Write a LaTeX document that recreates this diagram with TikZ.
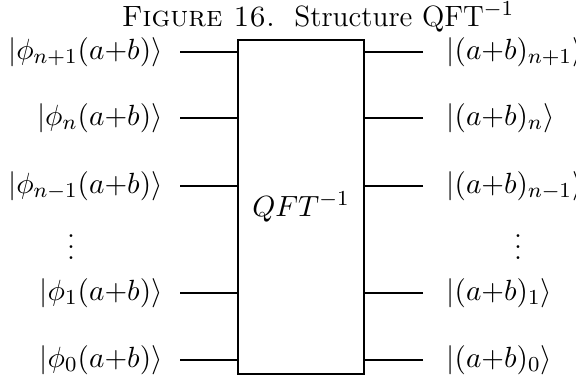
\documentclass[tikz,border=0pt]{standalone}
\usepackage{amsmath}
\begin{document}
\begin{tikzpicture}[x=0.375pt, y=-0.375pt,
		every node/.style={font=\fontsize{11}{13}\selectfont},
		lbl/.style={inner sep=0pt},
		lwire/.style={shorten <=6.4pt},
		rwire/.style={shorten <=8.6pt}]
	% 0. 画布
	\useasboundingbox (0,0) rectangle (576,383);
	
	% 1. 标题
	\node (title) at (318,17) {\textsc{Figure 16.}\ \ Structure QFT$^{-1}$};
	
	% 2. 方框
	\node[draw, inner sep=0pt, minimum width=47.25pt, minimum height=125.25pt] (qft) at (301,207) {$QFT^{-1}$};
	
	% 3. 输入
	\node[lbl, anchor=east] (in1) at (163,52) {$|\phi_{n+1}(a{+}b)\rangle$};
	\node[lbl, anchor=east] (in2) at (163,118) {$|\phi_{n}(a{+}b)\rangle$};
	\node[lbl, anchor=east] (in3) at (163,186) {$|\phi_{n-1}(a{+}b)\rangle$};
	\node[lbl, anchor=east] (in4) at (163,293) {$|\phi_{1}(a{+}b)\rangle$};
	\node[lbl, anchor=east] (in5) at (163,360) {$|\phi_{0}(a{+}b)\rangle$};
	\node (ldots) at (71,239) {$\vdots$};
	
	% 4. 输出
	\node[lbl, anchor=west] (out1) at (446,52) {$|(a{+}b)_{n+1}\rangle$};
	\node[lbl, anchor=west] (out2) at (446,118) {$|(a{+}b)_{n}\rangle$};
	\node[lbl, anchor=west] (out3) at (446,186) {$|(a{+}b)_{n-1}\rangle$};
	\node[lbl, anchor=west] (out4) at (446,293) {$|(a{+}b)_{1}\rangle$};
	\node[lbl, anchor=west] (out5) at (446,360) {$|(a{+}b)_{0}\rangle$};
	\node (rdots) at (518,239) {$\vdots$};
	
	% 5. 连线
	\draw[lwire] (in1) -- (in1 -| qft.west);
	\draw[lwire] (in2) -- (in2 -| qft.west);
	\draw[lwire] (in3) -- (in3 -| qft.west);
	\draw[lwire] (in4) -- (in4 -| qft.west);
	\draw[lwire] (in5) -- (in5 -| qft.west);
	\draw[rwire] (out1) -- (out1 -| qft.east);
	\draw[rwire] (out2) -- (out2 -| qft.east);
	\draw[rwire] (out3) -- (out3 -| qft.east);
	\draw[rwire] (out4) -- (out4 -| qft.east);
	\draw[rwire] (out5) -- (out5 -| qft.east);
\end{tikzpicture}
\end{document}
